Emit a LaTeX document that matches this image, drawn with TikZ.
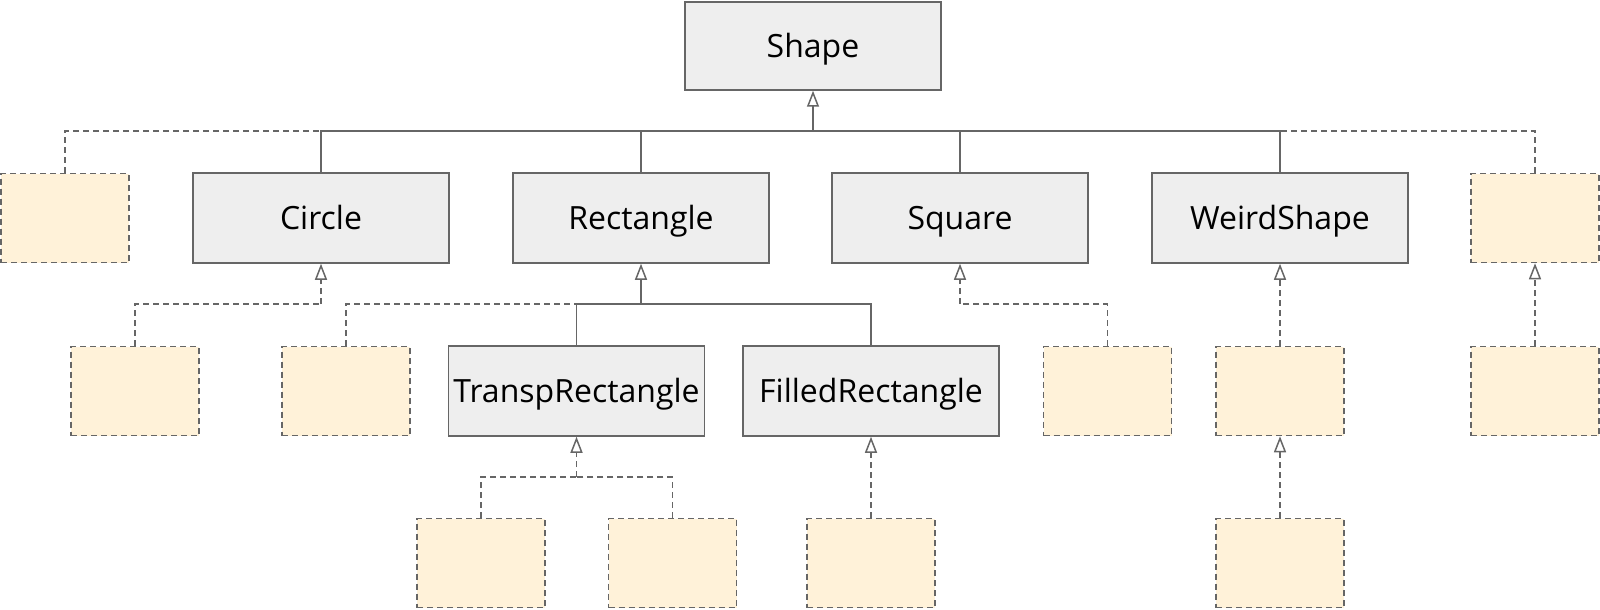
\documentclass[tikz,border=0pt]{standalone}
\usepackage{fontspec}
\setmainfont{Open Sans}
\usetikzlibrary{arrows.meta}
\definecolor{boxgray}{HTML}{EEEEEE}
\definecolor{linegray}{HTML}{666666}
\definecolor{stubyellow}{HTML}{FFF2D9}

\begin{document}
\begin{tikzpicture}[x=0.5pt,y=-0.5pt,
	classbox/.style={draw=linegray, fill=boxgray, line width=0.75pt, minimum width=128pt, minimum height=45pt, inner sep=0pt, text height=11.4pt, text depth=0pt, font=\fontsize{16}{19}\selectfont},
	stubbox/.style={draw=linegray, fill=stubyellow, line width=0.75pt, dash pattern=on 3pt off 2pt, minimum width=64pt, minimum height=44.5pt, inner sep=0pt},
	link/.style={draw=linegray, line width=0.75pt},
	stublink/.style={link, dash pattern=on 3pt off 2pt},
	inherit/.style={-{Triangle[open, fill=white, length=8pt, width=6pt]}}]
		\useasboundingbox (0,0) rectangle (1600,610);

		% top level
		\node (shape) [classbox, minimum height=44pt] at (813,46) {Shape};

		% first level
		\node (stubA) [stubbox] at (65,218) {};
		\node (circle) [classbox] at (321,218) {Circle};
		\node (rect) [classbox] at (641,218) {Rectangle};
		\node (square) [classbox] at (960,218) {Square};
		\node (weird) [classbox] at (1280,218) {WeirdShape};
		\node (stubB) [stubbox] at (1535,218) {};

		% second level
		\node (circA) [stubbox] at (135,391) {};
		\node (rectA) [stubbox] at (346,391) {};
		\node (transp) [classbox] at (576.5,391) {TranspRectangle};
		\node (filled) [classbox] at (871,391) {FilledRectangle};
		\node (squareA) [stubbox] at (1107.5,391) {};
		\node (weirdA) [stubbox] at (1280,391) {};
		\node (stubBA) [stubbox] at (1535,391) {};

		% third level
		\node (transpA) [stubbox] at (481,563) {};
		\node (transpB) [stubbox] at (672.5,563) {};
		\node (filledA) [stubbox] at (871,563) {};
		\node (weirdB) [stubbox] at (1280,563) {};

		\coordinate (shapebus) at (813,131);
		\coordinate (circbus) at (321,304);
		\coordinate (rectbus) at (641,304);
		\coordinate (squarebus) at (960,304);
		\coordinate (transpbus) at (576.5,477);

		% dashed links first, solid ones over them
		\draw[stublink] (stubA.north) |- (shapebus);
		\draw[stublink] (stubB.north) |- (shapebus);
		\draw[stublink, inherit] (circbus) -- (circle.south);
		\draw[stublink] (circA.north) |- (circbus);
		\draw[stublink] (rectA.north) |- (rectbus);
		\draw[stublink, inherit] (squarebus) -- (square.south);
		\draw[stublink] (squareA.north) |- (squarebus);
		\draw[stublink, inherit] (weirdA.north) -- (weird.south);
		\draw[stublink, inherit] (stubBA.north) -- (stubB.south);
		\draw[stublink, inherit] (transpbus) -- (transp.south);
		\draw[stublink] (transpA.north) |- (transpbus);
		\draw[stublink] (transpB.north) |- (transpbus);
		\draw[stublink, inherit] (filledA.north) -- (filled.south);
		\draw[stublink, inherit] (weirdB.north) -- (weirdA.south);

		\draw[link, inherit] (shapebus) -- (shape.south);
		\draw[link] (circle.north) |- (shapebus);
		\draw[link] (rect.north) |- (shapebus);
		\draw[link] (square.north) |- (shapebus);
		\draw[link] (weird.north) |- (shapebus);
		\draw[link, inherit] (rectbus) -- (rect.south);
		\draw[link] (transp.north) |- (rectbus);
		\draw[link] (filled.north) |- (rectbus);
	\end{tikzpicture}
\end{document}
